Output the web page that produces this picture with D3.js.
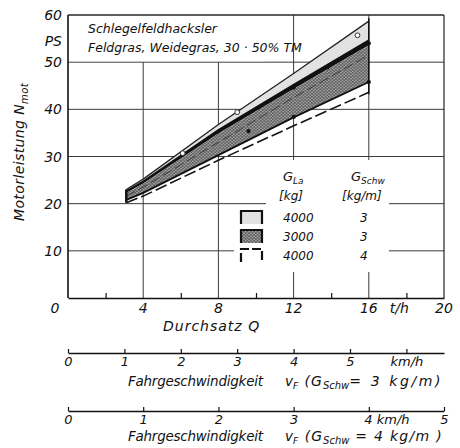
<!DOCTYPE html>
<html><head><meta charset="utf-8">
<script src="https://cdn.jsdelivr.net/npm/d3@7"></script>
<style>
body{margin:0;background:#fff}
svg text{font-family:"DejaVu Sans",sans-serif;font-style:italic;fill:#111}
</style></head><body>
<svg id="chart" width="460" height="448"></svg>
<script>
// Throughput points (t/h) where the band boundaries are read
const throughput   = [3.1, 4, 8, 12, 16];
// G_La 4000 kg, G_Schw 3 kg/m  (light band)
const lightUpper   = [23.0, 25.2, 36.8, 47.6, 58.7];
const lightLower   = [22.6, 24.7, 35.6, 45.2, 54.6];
// G_La 3000 kg, G_Schw 3 kg/m  (dotted band)
const dottedUpper  = [22.3, 24.3, 34.9, 44.3, 53.6];
const dottedLower  = [20.8, 22.3, 30.3, 38.3, 45.8];
// G_La 4000 kg, G_Schw 4 kg/m  (dashed outline)
const dashedUpper  = [21.6, 23.5, 33.0, 42.5, 51.5];
const dashedLower  = [20.2, 21.6, 29.2, 36.5, 43.6];

// measured points
const openQ  = [6.1, 9.0, 15.4];
const openN  = [30.7, 39.4, 55.7];
const solidQ = [9.6, 12.0, 13.8, 16.0, 12.0, 16.0];
const solidN = [35.4, 44.6, 48.9, 54.0, 38.4, 45.8];

// axes
const powerTicks = [10, 20, 30, 40, 50, 60];
const qTicks     = [0, 4, 8, 12, 16, 20];
const qMinor     = [2, 6, 10, 14, 18];
const speed3Ticks = [0, 1, 2, 3, 4, 5, 6];
const speed4Ticks = [0, 1, 2, 3, 4, 5];

// legend rows
const legendLa   = ["4000", "3000", "4000"];
const legendSchw = ["3", "3", "4"];
const legendKind = ["light", "dotted", "dashed"];

const svg = d3.select("#chart");
const x = d3.scaleLinear().domain([0, 20]).range([68, 444]);
const y = d3.scaleLinear().domain([0, 60]).range([298, 15]);

const defs = svg.append("defs");
const pat = defs.append("pattern").attr("id", "dots")
  .attr("width", 3.4).attr("height", 3).attr("patternUnits", "userSpaceOnUse");
pat.append("rect").attr("width", 3.4).attr("height", 3).attr("fill", "#5e5e5e");
pat.append("circle").attr("cx", 0.85).attr("cy", 0.75).attr("r", 0.65).attr("fill", "#d0d0d0");
pat.append("circle").attr("cx", 2.55).attr("cy", 2.25).attr("r", 0.65).attr("fill", "#d0d0d0");

// grid
const grid = svg.append("g").attr("stroke", "#3a3a3a").attr("stroke-width", 1);
grid.selectAll("line.h").data(powerTicks).join("line")
  .attr("x1", x(0)).attr("x2", x(20)).attr("y1", d => y(d)).attr("y2", d => y(d));
grid.selectAll("line.v").data([4, 8, 12, 16]).join("line")
  .attr("x1", d => x(d)).attr("x2", d => x(d))
  .attr("y1", d => d < 10 ? y(50) : y(60)).attr("y2", y(0));

// blank areas behind the heading and the legend
svg.append("rect").attr("x", x(0) + 1).attr("y", y(60) + 1)
  .attr("width", 197).attr("height", y(50) - y(60) - 2).attr("fill", "#fff");
svg.append("rect").attr("x", 266).attr("y", 160).attr("width", 123).attr("height", 112).attr("fill", "#fff");
svg.append("rect").attr("x", 234).attr("y", 205).attr("width", 33).attr("height", 67).attr("fill", "#fff");

// axes frame
svg.append("line").attr("x1", x(0)).attr("x2", x(0)).attr("y1", y(60)).attr("y2", y(0))
  .attr("stroke", "#111").attr("stroke-width", 1.6);
svg.append("line").attr("x1", x(20)).attr("x2", x(20)).attr("y1", y(60)).attr("y2", y(0))
  .attr("stroke", "#222").attr("stroke-width", 1.2);
svg.append("line").attr("x1", x(0)).attr("x2", x(20)).attr("y1", y(60)).attr("y2", y(60))
  .attr("stroke", "#222").attr("stroke-width", 1.2);

const xAxis = svg.append("g").attr("transform", `translate(0,${y(0)})`)
  .call(d3.axisBottom(x).tickValues(qMinor).tickSizeInner(-5).tickSizeOuter(0).tickFormat(""));
xAxis.select(".domain").attr("stroke", "#111").attr("stroke-width", 1.6);
xAxis.selectAll(".tick line").attr("stroke", "#111").attr("stroke-width", 1.2);

// bands
const rows = throughput.map((q, i) => ({
  q, lu: lightUpper[i], ll: lightLower[i], du: dottedUpper[i], dl: dottedLower[i],
  su: dashedUpper[i], sl: dashedLower[i]
}));
const area = (hi, lo) => d3.area().x(d => x(d.q)).y0(d => y(d[lo])).y1(d => y(d[hi]));
const line = key => d3.line().x(d => x(d.q)).y(d => y(d[key]));

svg.append("path").datum(rows).attr("d", area("lu", "ll")).attr("fill", "#e2e2e2");
svg.append("path").datum(rows).attr("d", area("ll", "du")).attr("fill", "#111");
svg.append("path").datum(rows).attr("d", area("du", "dl")).attr("fill", "url(#dots)");

svg.append("path").datum(rows).attr("d", line("lu")).attr("fill", "none")
  .attr("stroke", "#222").attr("stroke-width", 1.3);
svg.append("path").datum(rows).attr("d", line("ll")).attr("fill", "none")
  .attr("stroke", "#111").attr("stroke-width", 2);
svg.append("path").datum(rows).attr("d", line("dl")).attr("fill", "none")
  .attr("stroke", "#111").attr("stroke-width", 1.8);
svg.append("path").datum(rows).attr("d", line("su")).attr("fill", "none")
  .attr("stroke", "#333").attr("stroke-width", 0.9).attr("stroke-dasharray", "10,4");
svg.append("path").datum(rows).attr("d", line("sl")).attr("fill", "none")
  .attr("stroke", "#111").attr("stroke-width", 1.6).attr("stroke-dasharray", "12,4");
// band ends
const first = rows[0], last = rows[rows.length - 1];
svg.append("line").attr("x1", x(first.q)).attr("x2", x(first.q))
  .attr("y1", y(first.sl)).attr("y2", y(first.lu)).attr("stroke", "#111").attr("stroke-width", 2.5);
svg.append("line").attr("x1", x(last.q)).attr("x2", x(last.q))
  .attr("y1", y(last.sl) + 2).attr("y2", y(last.lu) - 3).attr("stroke", "#111").attr("stroke-width", 1.6);

// points
svg.selectAll("circle.open").data(openQ).join("circle")
  .attr("cx", (d) => x(d)).attr("cy", (d, i) => y(openN[i])).attr("r", 2.4)
  .attr("fill", "#fff").attr("stroke", "#333").attr("stroke-width", 1);
svg.selectAll("circle.solid").data(solidQ).join("circle")
  .attr("cx", d => x(d)).attr("cy", (d, i) => y(solidN[i])).attr("r", 2.1).attr("fill", "#111");

// heading
svg.append("text").attr("x", 88).attr("y", 33).attr("font-size", 12.5).text("Schlegelfeldhacksler");
svg.append("text").attr("x", 88).attr("y", 52).attr("font-size", 12.5).text("Feldgras, Weidegras, 30 · 50% TM");

// y tick labels
svg.selectAll("text.yt").data(powerTicks).join("text")
  .attr("x", 62).attr("y", d => y(d)).attr("dy", "0.36em").attr("text-anchor", "end")
  .attr("font-size", 14).text(d => d);
svg.append("text").attr("x", 62).attr("y", y(55)).attr("dy", "0.5em").attr("text-anchor", "end")
  .attr("font-size", 14).text("PS");

// y title
const yt = svg.append("text").attr("transform", `translate(24,${152}) rotate(-90)`)
  .attr("text-anchor", "middle").attr("font-size", 14).attr("letter-spacing", 0.4);
yt.append("tspan").text("Motorleistung   N");
yt.append("tspan").attr("font-size", 10).attr("dy", 4).text("mot");

// x tick labels
svg.selectAll("text.xt").data(qTicks).join("text")
  .attr("x", d => x(d) + (d === 0 ? -13 : 0)).attr("y", y(0) + 15)
  .attr("text-anchor", "middle").attr("font-size", 14).text(d => d);
svg.append("text").attr("x", x(18) - 7).attr("y", y(0) + 15).attr("text-anchor", "middle")
  .attr("font-size", 14).text("t/h");
svg.append("text").attr("x", 163).attr("y", 331).attr("font-size", 14)
  .attr("letter-spacing", 1).text("Durchsatz  Q");

// travel speed scales: Q = G_Schw · v_F
function speedAxis(ySpot, gSchw, ticks, fmt) {
  const s = d3.scaleLinear().domain([0, 20 / gSchw]).range([x(0), x(20)]);
  const g = svg.append("g").attr("transform", `translate(0,${ySpot})`)
    .call(d3.axisBottom(s).tickValues(ticks).tickSizeInner(-4).tickSizeOuter(0).tickPadding(4).tickFormat(fmt));
  g.select(".domain").attr("stroke", "#111").attr("stroke-width", 1.4);
  g.selectAll(".tick line").attr("stroke", "#111").attr("stroke-width", 1.2);
  g.selectAll(".tick text").attr("font-size", 13).attr("fill", "#111");
  g.attr("font-family", null).attr("font-size", null);
  return g;
}
speedAxis(353, 3, speed3Ticks, d => d === 6 ? "km/h" : d);
const ax4 = speedAxis(411, 4, speed4Ticks, d => d === 4 ? "4 km/h" : d);
ax4.selectAll(".tick text").filter(d => d === 4).attr("text-anchor", "start").attr("dx", -5);

function speedTitle(yb, tail, spacing) {
  svg.append("text").attr("x", 128).attr("y", yb).attr("font-size", 13.5)
    .attr("textLength", 135).attr("lengthAdjust", "spacing").text("Fahrgeschwindigkeit");
  const v = svg.append("text").attr("x", 285).attr("y", yb).attr("font-size", 13.5);
  v.append("tspan").text("v");
  v.append("tspan").attr("font-size", 9).attr("dy", 3).text("F");
  const t = svg.append("text").attr("x", 443).attr("y", yb).attr("font-size", 14)
    .attr("text-anchor", "end");
  t.append("tspan").attr("letter-spacing", 1).text("(G");
  t.append("tspan").attr("font-size", 10).attr("dy", 3).text("Schw");
  t.append("tspan").attr("dy", -3).attr("letter-spacing", spacing).text(tail);
}
speedTitle(386, "= 3 kg/m)", 2.6);
speedTitle(441, " = 4 kg/m )", 1.3);

// legend
const lg = svg.append("g");
function header(xp, main, sub, unit, ux) {
  const t = lg.append("text").attr("x", xp).attr("y", 181).attr("font-size", 13);
  t.append("tspan").text(main);
  t.append("tspan").attr("font-size", 9).attr("dy", 3).text(sub);
  lg.append("text").attr("x", ux).attr("y", 200).attr("font-size", 12).text(unit);
}
header(283, "G", "La", "[kg]", 279);
header(351, "G", "Schw", "[kg/m]", 342);
const rowY = [217, 236, 255];
legendKind.forEach((k, i) => {
  const top = rowY[i] - 6, h = 13, l = 241, w = 21;
  lg.append("rect").attr("x", l).attr("y", top).attr("width", w).attr("height", h)
    .attr("fill", k === "light" ? "#e2e2e2" : k === "dotted" ? "url(#dots)" : "#fff");
  lg.append("path").attr("d", `M${l},${top + h}V${top}H${l + w}V${top + h}`)
    .attr("fill", "none").attr("stroke", "#111").attr("stroke-width", 2.2)
    .attr("stroke-dasharray", k === "dashed" ? "9,3" : null);
  lg.append("text").attr("x", 283).attr("y", rowY[i] + 5).attr("font-size", 12).text(legendLa[i]);
  lg.append("text").attr("x", 360).attr("y", rowY[i] + 5).attr("font-size", 12).text(legendSchw[i]);
});
</script>
</body></html>
